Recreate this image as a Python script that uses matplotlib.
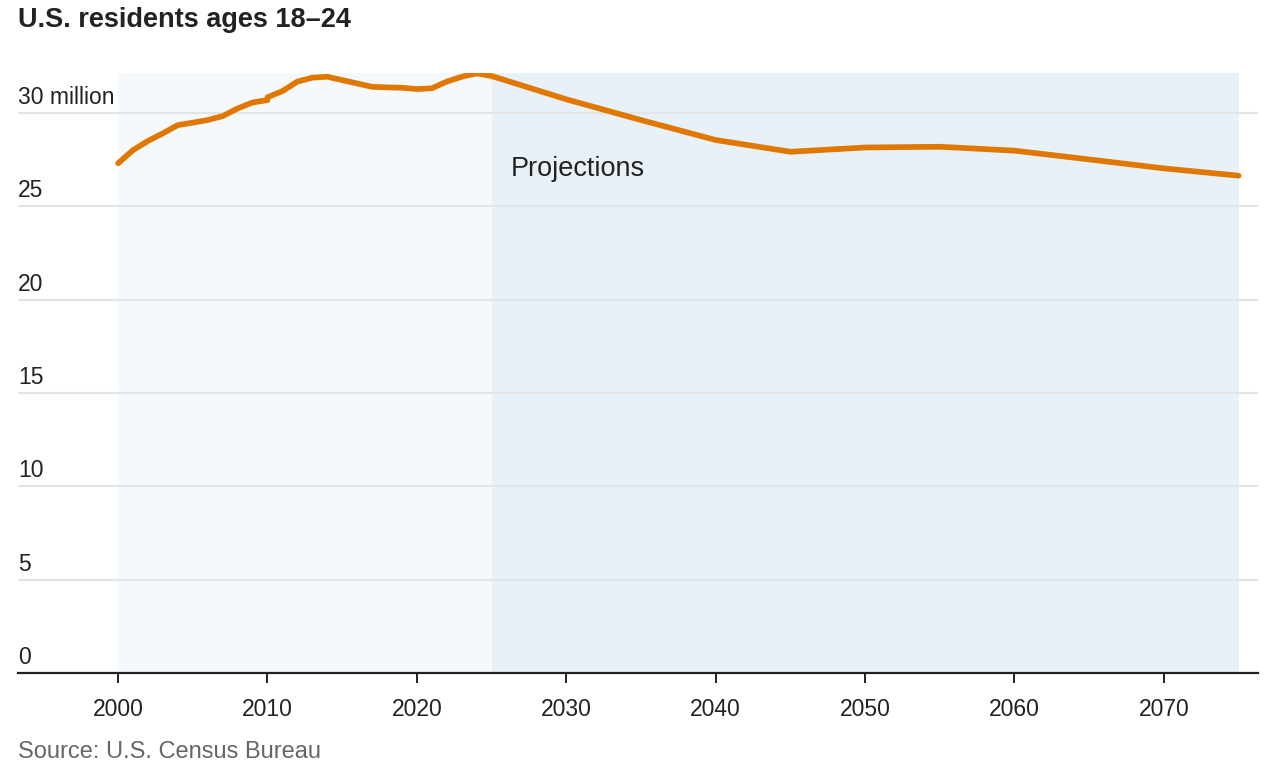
import matplotlib
matplotlib.use("Agg")
import matplotlib.pyplot as plt
import matplotlib.transforms as mtransforms

# data (millions)
years_a = [2000, 2001, 2002, 2003, 2004, 2005, 2006, 2007, 2008, 2009, 2010]
vals_a = [27.30, 28.01, 28.50, 28.91, 29.35, 29.48, 29.62, 29.83, 30.24, 30.56, 30.69]

years_b = [2010, 2011, 2012, 2013, 2014, 2015, 2016, 2017, 2018, 2019, 2020,
           2021, 2022, 2023, 2024]
vals_b = [30.84, 31.17, 31.68, 31.89, 31.94, 31.76, 31.58, 31.40, 31.37, 31.35,
          31.28, 31.32, 31.68, 31.94, 32.12]

years_proj = [2024, 2025, 2030, 2035, 2040, 2045, 2050, 2055, 2060, 2065, 2070, 2075]
vals_proj = [32.12, 31.98, 30.73, 29.62, 28.55, 27.92, 28.15, 28.19, 27.98, 27.51,
             27.03, 26.64]

y_ticks = [0, 5, 10, 15, 20, 25, 30]
y_labels = ["0", "5", "10", "15", "20", "25", "30 million"]
x_ticks = [2000, 2010, 2020, 2030, 2040, 2050, 2060, 2070]

LINE = "#E07800"
FONT = "Liberation Sans"

fig = plt.figure(figsize=(12.68, 7.72), dpi=100)
ax = fig.add_axes([18 / 1268, 1 - 673 / 772, 1240 / 1268, 600 / 772])

ax.set_xlim(1993.3, 2076.3)
ax.set_ylim(0, 32.14)

# shaded periods
ax.axvspan(2000, 2025, color="#F5F9FC", zorder=0, lw=0)
ax.axvspan(2025, 2075, color="#E8F0F8", zorder=0, lw=0)

for t in y_ticks[1:]:
    ax.axhline(t, color="#E2E4E6", lw=1.5, zorder=1)

ax.plot(years_a, vals_a, color=LINE, lw=4.1, solid_capstyle="round", zorder=3)
ax.plot(years_b + years_proj[1:], vals_b + vals_proj[1:], color=LINE, lw=4.1,
        solid_capstyle="round", solid_joinstyle="round", zorder=3)

for s in ["left", "right", "top"]:
    ax.spines[s].set_visible(False)
ax.spines["bottom"].set_color("#222222")
ax.spines["bottom"].set_linewidth(1.6)
ax.spines["bottom"].set_zorder(4)

ax.set_yticks([])
ax.set_xticks(x_ticks)
ax.set_xticklabels([str(x) for x in x_ticks], fontsize=16.5, family=FONT,
                   color="#222222")
ax.tick_params(axis="x", length=7, width=1.4, color="#222222", pad=11)

trans = mtransforms.blended_transform_factory(ax.transAxes, ax.transData)
trans = mtransforms.offset_copy(trans, fig=fig, x=0, y=6.5, units="points")
for t, lab in zip(y_ticks, y_labels):
    ax.text(0, t, lab, transform=trans, ha="left", va="baseline",
            fontsize=16.5, family=FONT, color="#222222")

ax.text(2026.3, 26.62, "Projections", fontsize=19.5, family=FONT,
        color="#222222", va="baseline", ha="left")

fig.text(18 / 1268, 1 - 20 / 772, "U.S. residents ages 18\u201324", fontsize=19.5,
         fontweight="bold", family=FONT, color="#222222", va="center", ha="left")
fig.text(18 / 1268, 1 - 752 / 772, "Source: U.S. Census Bureau", fontsize=17,
         family=FONT, color="#666666", va="center", ha="left")

fig.savefig("out.png", dpi=100)
